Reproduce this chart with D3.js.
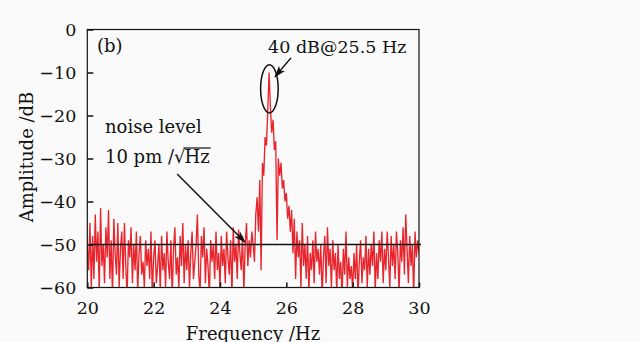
<!DOCTYPE html>
<html>
<head>
<meta charset="utf-8">
<script src="https://cdn.jsdelivr.net/npm/d3@7"></script>
<style>
  body { margin: 0; background: #fafafa; }
  text { font-family: "DejaVu Serif", serif; fill: #111; }
</style>
</head>
<body>
<div id="chart"></div>
<script>
// spectrum sampled every 0.04 Hz from 20 to 30 Hz, amplitude in dB
var freqStart = 20, freqStep = 0.04;
var amplitude = [
  -50,-56,-45,-60,-48,-58,-43,-54,-47,-61,-41.5,-55,-50,-59,-46,-53,-42,-58,-49,-62,-44,-52,-57,-45,-60,
  -51,-47,-58,-45,-55,-62,-49,-53,-46,-59,-50,-56,-47,-61,-52,-48,-57,-54,-60,-49,-55,-51,-58,-47,-62,
  -53,-49,-59,-55,-50,-61,-48,-56,-52,-60,-47,-54,-58,-49,-62,-51,-46,-57,-53,-60,-48,-55,-45,-59,-50,
  -56,-49,-60,-52,-47,-58,-54,-50,-43,-57,-61,-48,-53,-46,-59,-51,-55,-62,-49,-54,-50,-58,-47,-56,-52,
  -60,-48,-55,-51,-59,-47,-53,-57,-49,-62,-46,-54,-50,-58,-46.5,-52,-56,-48,-61,-50,-45,-55,-49,-53,-47,
  -50,-54,-43,-39,-47,-35,-56,-31,-34,-25,-27,-19,-10,-18,-24,-21,-28,-26,-49,-30,-34,-31,-37,-35,-40,
  -38,-44,-41,-47,-42,-52,-44,-58,-47,-53,-49,-60,-45,-55,-50,-58,-48,-61,-52,-56,-49,-59,-47,-54,-51,
  -57,-50,-62,-53,-48,-59,-46,-55,-51,-60,-49,-56,-52,-61,-50,-58,-54,-62,-51,-57,-47,-60,-53,-58,-55,
  -61,-52,-58,-50,-62,-54,-49,-59,-53,-56,-48,-60,-51,-57,-50,-55,-47,-61,-52,-58,-49,-54,-47,-59,-51,
  -56,-47,-53,-60,-48,-55,-50,-58,-47,-52,-61,-49,-54,-46,-57,-43,-51,-59,-48,-55,-50,-62,-47,-53,-49,
  -52
];
var xTicks = [20, 22, 24, 26, 28, 30];
var yTicks = [0, -10, -20, -30, -40, -50, -60];
var noiseLevel = -50;
var peakFreq = 25.49, peakAmp = -13.8;

var W = 640, H = 342;
var margin = {top: 29.5, right: 221, bottom: 54.5, left: 87.3};
var w = W - margin.left - margin.right;
var h = H - margin.top - margin.bottom;

var svg = d3.select("#chart").append("svg")
    .attr("width", W)
    .attr("height", H)
  .append("g")
    .attr("transform", "translate(" + margin.left + "," + margin.top + ")");

var x = d3.scaleLinear().domain([20, 30]).range([0, w]);
var y = d3.scaleLinear().domain([-60, 0]).range([h, 0]);

var data = amplitude.map(function(d, i) { return {f: freqStart + i * freqStep, a: d}; });

svg.append("clipPath").attr("id", "clip")
  .append("rect").attr("width", w).attr("height", h);

var defs = svg.append("defs");
defs.append("marker")
    .attr("id", "arrow")
    .attr("viewBox", "0 0 12 8")
    .attr("refX", 11).attr("refY", 4)
    .attr("markerWidth", 12).attr("markerHeight", 8)
    .attr("markerUnits", "userSpaceOnUse")
    .attr("orient", "auto")
  .append("path")
    .attr("d", "M0,0 L12,4 L0,8 L3,4 Z")
    .style("fill", "#111");

// spectrum
svg.append("path")
    .datum(data)
    .attr("clip-path", "url(#clip)")
    .attr("d", d3.line().x(function(d) { return x(d.f); }).y(function(d) { return y(d.a); }))
    .style("fill", "none")
    .style("stroke", "#e8242c")
    .style("stroke-width", 1.35);

// noise level line
svg.append("line")
    .attr("x1", x(20.08)).attr("x2", x(30.06))
    .attr("y1", y(noiseLevel)).attr("y2", y(noiseLevel))
    .style("stroke", "#111")
    .style("stroke-width", 1.5);

// axes
svg.append("g")
    .call(d3.axisLeft(y).tickValues(yTicks).tickSize(-6).tickSizeOuter(0).tickPadding(11));
svg.append("g")
    .attr("transform", "translate(0," + h + ")")
    .call(d3.axisBottom(x).tickValues(xTicks).tickSize(-5).tickSizeOuter(0).tickPadding(14));
svg.selectAll(".tick text").style("font-size", "17.5px").style("font-family", "DejaVu Serif");
svg.selectAll(".tick line").style("stroke", "#111").style("stroke-width", 1.5);
svg.selectAll(".domain").remove();

svg.append("rect")
    .attr("width", w).attr("height", h)
    .style("fill", "none")
    .style("stroke", "#111")
    .style("stroke-width", 1.2);

// axis titles
svg.append("text")
    .attr("transform", "rotate(-90)")
    .attr("x", -(157 - margin.top))
    .attr("y", 33 - margin.left)
    .attr("text-anchor", "middle")
    .style("font-size", "18px")
    .text("Amplitude /dB");

svg.append("text")
    .attr("x", 253 - margin.left)
    .attr("y", 340 - margin.top)
    .attr("text-anchor", "middle")
    .style("font-size", "18px")
    .text("Frequency /Hz");

svg.append("text")
    .attr("x", 97 - margin.left)
    .attr("y", 52 - margin.top)
    .style("font-size", "18px")
    .text("(b)");

// peak annotation
svg.append("ellipse")
    .attr("cx", x(peakFreq)).attr("cy", y(peakAmp))
    .attr("rx", x(peakFreq + 0.265) - x(peakFreq))
    .attr("ry", y(peakAmp - 5.6) - y(peakAmp))
    .style("fill", "none")
    .style("stroke", "#111")
    .style("stroke-width", 1.5);

svg.append("line")
    .attr("x1", x(26.14)).attr("y1", y(-6.6))
    .attr("x2", x(25.66)).attr("y2", y(-11.0))
    .style("stroke", "#111").style("stroke-width", 1.5)
    .attr("marker-end", "url(#arrow)");

svg.append("text")
    .attr("x", x(25.45))
    .attr("y", 53 - margin.top)
    .style("font-size", "17.5px")
    .text("40 dB@25.5 Hz");

// noise level annotation
svg.append("text")
    .attr("x", 105 - margin.left)
    .attr("y", 133 - margin.top)
    .style("font-size", "18px")
    .text("noise level");

var t1 = svg.append("text")
    .attr("x", 105 - margin.left)
    .attr("y", 163 - margin.top)
    .style("font-size", "18px")
    .text("10 pm /\u221A");
var hzX = 105 - margin.left + t1.node().getComputedTextLength() - 1;
var t2 = svg.append("text")
    .attr("x", hzX)
    .attr("y", 163 - margin.top)
    .style("font-size", "18px")
    .text("Hz");
svg.append("line")
    .attr("x1", hzX - 1).attr("x2", hzX + t2.node().getComputedTextLength() + 1)
    .attr("y1", 163 - margin.top - 15).attr("y2", 163 - margin.top - 15)
    .style("stroke", "#111").style("stroke-width", 1.2);

svg.append("line")
    .attr("x1", x(22.71)).attr("y1", y(-33.6))
    .attr("x2", x(24.75)).attr("y2", y(-49.4))
    .style("stroke", "#111").style("stroke-width", 1.5)
    .attr("marker-end", "url(#arrow)");
</script>
</body>
</html>
